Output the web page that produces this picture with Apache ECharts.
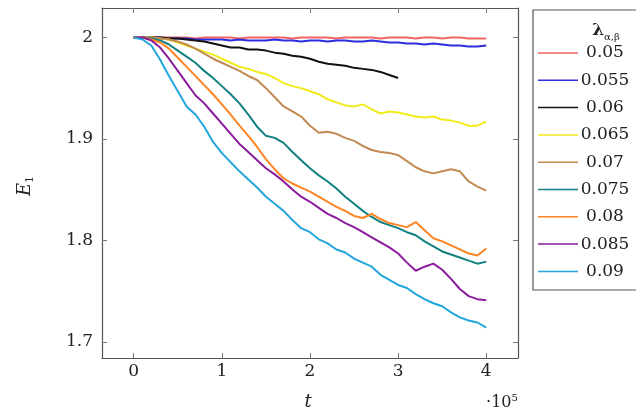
<!DOCTYPE html>
<html>
<head>
<meta charset="utf-8">
<script src="https://cdn.jsdelivr.net/npm/echarts@6/dist/echarts.min.js"></script>
<style>
  html, body { margin: 0; padding: 0; background: #fff; }
  #energy { width: 636px; height: 414px; }
</style>
</head>
<body>
<div id="energy"></div>
<script>
// time axis, in units of 1e5, step 0.1
const tValues = [0, 0.1, 0.2, 0.3, 0.4, 0.5, 0.6, 0.7, 0.8, 0.9, 1.0, 1.1, 1.2, 1.3, 1.4, 1.5, 1.6, 1.7, 1.8, 1.9, 2.0,
  2.1, 2.2, 2.3, 2.4, 2.5, 2.6, 2.7, 2.8, 2.9, 3.0, 3.1, 3.2, 3.3, 3.4, 3.5, 3.6, 3.7, 3.8, 3.9, 4.0];

const lambdas = ['0.05', '0.055', '0.06', '0.065', '0.07', '0.075', '0.08', '0.085', '0.09'];

const e005 = [2.0, 2.0, 2.0, 2.0, 2.0, 2.0, 2.0, 1.999, 2.0, 2.0, 2.0, 2.0, 1.999, 2.0, 2.0, 2.0, 2.0, 2.0, 1.999, 2.0, 2.0,
  2.0, 2.0, 1.999, 2.0, 2.0, 2.0, 2.0, 1.999, 2.0, 2.0, 2.0, 1.999, 2.0, 2.0, 1.999, 2.0, 2.0, 1.999, 1.999, 1.999];
const e0055 = [2.0, 2.0, 2.0, 2.0, 1.999, 1.999, 1.999, 1.998, 1.998, 1.998, 1.998, 1.997, 1.998, 1.997, 1.997, 1.997, 1.998, 1.997, 1.997, 1.996, 1.997,
  1.997, 1.996, 1.997, 1.997, 1.996, 1.996, 1.997, 1.996, 1.995, 1.995, 1.994, 1.994, 1.993, 1.994, 1.993, 1.992, 1.992, 1.991, 1.991, 1.992];
const e006 = [2.0, 2.0, 2.0, 2.0, 1.999, 1.999, 1.998, 1.997, 1.996, 1.994, 1.992, 1.990, 1.990, 1.988, 1.988, 1.987, 1.985, 1.984, 1.982, 1.981, 1.979,
  1.976, 1.974, 1.973, 1.972, 1.970, 1.969, 1.968, 1.966, 1.963, 1.960];
const e0065 = [2.0, 2.0, 2.0, 1.999, 1.998, 1.995, 1.992, 1.989, 1.986, 1.983, 1.979, 1.975, 1.971, 1.969, 1.966, 1.964, 1.960, 1.955, 1.952, 1.950, 1.947,
  1.944, 1.939, 1.936, 1.933, 1.932, 1.934, 1.929, 1.925, 1.927, 1.926, 1.924, 1.922, 1.921, 1.922, 1.919, 1.918, 1.916, 1.913, 1.913, 1.917];
const e007 = [2.0, 2.0, 2.0, 1.999, 1.998, 1.996, 1.993, 1.989, 1.984, 1.979, 1.975, 1.971, 1.967, 1.962, 1.958, 1.950, 1.941, 1.932, 1.927, 1.922, 1.913,
  1.906, 1.907, 1.905, 1.901, 1.898, 1.893, 1.889, 1.887, 1.886, 1.884, 1.878, 1.872, 1.868, 1.866, 1.868, 1.870, 1.868, 1.858, 1.853, 1.849];
const e0075 = [2.0, 2.0, 1.999, 1.997, 1.993, 1.987, 1.981, 1.975, 1.967, 1.960, 1.952, 1.944, 1.935, 1.924, 1.912, 1.903, 1.901, 1.896, 1.887, 1.879, 1.871,
  1.864, 1.858, 1.851, 1.843, 1.836, 1.829, 1.823, 1.818, 1.815, 1.812, 1.808, 1.805, 1.799, 1.794, 1.789, 1.786, 1.783, 1.780, 1.777, 1.779];
const e008 = [2.0, 2.0, 1.998, 1.995, 1.989, 1.980, 1.971, 1.962, 1.953, 1.944, 1.934, 1.924, 1.913, 1.903, 1.892, 1.880, 1.870, 1.861, 1.856, 1.852, 1.848,
  1.843, 1.838, 1.833, 1.829, 1.824, 1.822, 1.826, 1.821, 1.817, 1.815, 1.813, 1.818, 1.810, 1.802, 1.799, 1.795, 1.791, 1.787, 1.785, 1.792];
const e0085 = [2.0, 2.0, 1.997, 1.990, 1.979, 1.967, 1.955, 1.943, 1.935, 1.925, 1.915, 1.905, 1.895, 1.887, 1.879, 1.871, 1.865, 1.858, 1.850, 1.843, 1.838,
  1.832, 1.826, 1.822, 1.817, 1.813, 1.808, 1.803, 1.798, 1.793, 1.787, 1.778, 1.770, 1.774, 1.777, 1.771, 1.762, 1.752, 1.745, 1.742, 1.741];
const e009 = [2.0, 1.998, 1.992, 1.978, 1.962, 1.947, 1.932, 1.924, 1.912, 1.897, 1.886, 1.877, 1.868, 1.860, 1.852, 1.843, 1.836, 1.829, 1.820, 1.812, 1.808,
  1.801, 1.797, 1.791, 1.788, 1.782, 1.778, 1.774, 1.766, 1.761, 1.756, 1.753, 1.747, 1.742, 1.738, 1.735, 1.729, 1.724, 1.721, 1.719, 1.714];

const curves = [e005, e0055, e006, e0065, e007, e0075, e008, e0085, e009];

const xTicks = [0, 1, 2, 3, 4];
const yTicks = [1.7, 1.8, 1.9, 2.0];

function setChart() {
  const chartDom = document.getElementById('energy');
  const myChart = echarts.init(chartDom);
  let option;

  const colorList = ['#f06464', '#2e2ee0', '#111111', '#f2ea1a', '#c08a52', '#128080', '#ff8424', '#8a1c9c', '#22a6dc'];
  const serif = 'DejaVu Serif';
  const boxColor = '#555';

  const series = curves.map((vals, k) => ({
    name: lambdas[k],
    type: 'line',
    xAxisIndex: 0,
    yAxisIndex: 0,
    symbol: 'none',
    data: vals.map((v, i) => [tValues[i], v]),
    lineStyle: { width: 2, color: colorList[k] },
    itemStyle: { color: colorList[k] }
  }));

  const tickStyle = { show: true, inside: true, length: 5, lineStyle: { color: '#777' } };

  option = {
    backgroundColor: '#fff',
    animation: false,
    color: colorList,
    grid: {
      left: 102,
      top: 8,
      right: 118,
      bottom: 56,
      containLabel: false,
      outerBoundsMode: 'none'
    },
    xAxis: [
      {
        type: 'value',
        position: 'bottom',
        min: -0.36,
        max: 4.36,
        axisLine: { show: true, onZero: false, lineStyle: { color: boxColor, width: 1.2 } },
        axisTick: Object.assign({ customValues: xTicks }, tickStyle),
        axisLabel: {
          customValues: xTicks,
          margin: 5,
          color: '#222',
          fontFamily: serif,
          fontSize: 17
        },
        splitLine: { show: false }
      },
      {
        type: 'value',
        position: 'top',
        min: -0.36,
        max: 4.36,
        axisLine: { show: true, onZero: false, lineStyle: { color: boxColor, width: 1.2 } },
        axisTick: Object.assign({ customValues: xTicks }, tickStyle),
        axisLabel: { show: false },
        splitLine: { show: false }
      }
    ],
    yAxis: [
      {
        type: 'value',
        position: 'left',
        min: 1.684,
        max: 2.029,
        axisLine: { show: true, onZero: false, lineStyle: { color: boxColor, width: 1.2 } },
        axisTick: Object.assign({ customValues: yTicks }, tickStyle),
        axisLabel: {
          customValues: yTicks,
          margin: 9,
          color: '#222',
          fontFamily: serif,
          fontSize: 17,
          formatter: v => String(Math.round(v * 10) / 10)
        },
        splitLine: { show: false }
      },
      {
        type: 'value',
        position: 'right',
        min: 1.684,
        max: 2.029,
        axisLine: { show: true, onZero: false, lineStyle: { color: boxColor, width: 1.2 } },
        axisTick: Object.assign({ customValues: yTicks }, tickStyle),
        axisLabel: { show: false },
        splitLine: { show: false }
      }
    ],
    legend: {
      orient: 'vertical',
      left: 538,
      top: 44.5,
      padding: 0,
      icon: 'rect',
      itemWidth: 40,
      itemHeight: 1.5,
      itemGap: 10.3,
      data: lambdas,
      formatter: '{a|{name}}',
      textStyle: {
        color: '#222',
        fontFamily: serif,
        fontSize: 17,
        rich: {
          a: { width: 44, align: 'center', fontFamily: serif, fontSize: 17, color: '#222' }
        }
      }
    },
    graphic: [
      {
        // legend frame, cut by the right edge of the picture
        type: 'rect',
        shape: { x: 533, y: 10, width: 120, height: 280 },
        style: { fill: 'none', stroke: boxColor, lineWidth: 1.2 },
        silent: true
      },
      {
        type: 'text',
        x: 606,
        y: 31,
        style: {
          text: '{l|λ}{s|α,β}',
          align: 'center',
          verticalAlign: 'middle',
          rich: {
            l: { fontFamily: serif, fontSize: 17, fontWeight: 'bold', fill: '#222', lineHeight: 22 },
            s: { fontFamily: serif, fontSize: 10, fill: '#222', lineHeight: 22, verticalAlign: 'bottom' }
          }
        }
      },
      {
        type: 'text',
        x: 308,
        y: 402,
        style: {
          text: 't',
          align: 'center',
          verticalAlign: 'middle',
          fontFamily: serif,
          fontStyle: 'italic',
          fontSize: 18,
          fill: '#222'
        }
      },
      {
        type: 'text',
        x: 502,
        y: 403,
        style: {
          text: '{a|·10}{b|5}',
          align: 'center',
          verticalAlign: 'middle',
          rich: {
            a: { fontFamily: serif, fontSize: 16, fill: '#222', lineHeight: 20 },
            b: { fontFamily: serif, fontSize: 10, fill: '#222', lineHeight: 20, verticalAlign: 'top' }
          }
        }
      },
      {
        type: 'text',
        x: 25,
        y: 186,
        rotation: Math.PI / 2,
        style: {
          text: '{e|E}{s|1}',
          align: 'center',
          verticalAlign: 'middle',
          rich: {
            e: { fontFamily: serif, fontStyle: 'italic', fontSize: 18, fill: '#222', lineHeight: 22 },
            s: { fontFamily: serif, fontSize: 11, fill: '#222', lineHeight: 22, verticalAlign: 'bottom' }
          }
        }
      }
    ],
    series: series
  };

  option && myChart.setOption(option);
}

setChart();
</script>
</body>
</html>
